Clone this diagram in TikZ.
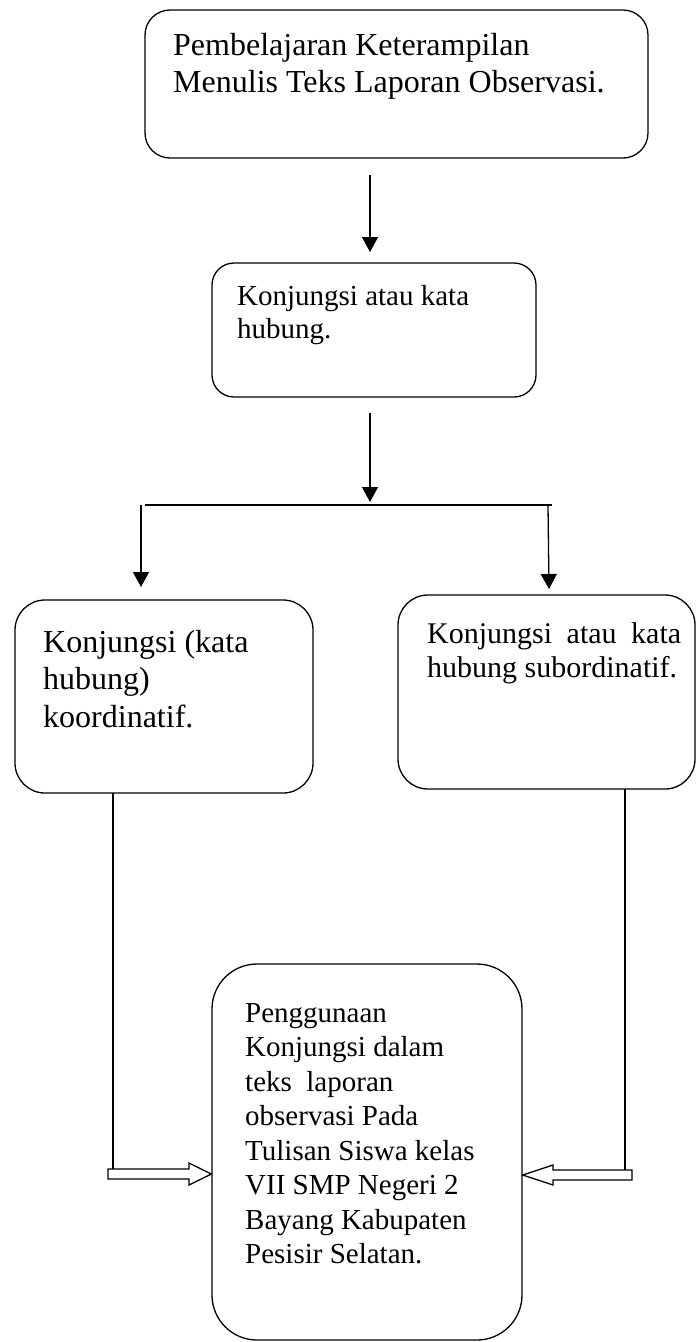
\documentclass[tikz,border=0pt]{standalone}
\usepackage{fontspec}
\setmainfont{Liberation Serif}
\usetikzlibrary{arrows.meta}
\begin{document}
\begin{tikzpicture}[x=1pt,y=-1pt,
  box/.style={draw, line width=1.3pt, inner sep=0pt},
  lbl/.style={anchor=base west, inner sep=0pt},
  arr/.style={line width=1.3pt, -{Triangle[width=16pt,length=15pt]}},
  ln/.style={line width=1.3pt},
  hollow/.style={draw, line width=1.3pt, fill=white, line join=miter}]
\useasboundingbox (0,0) rectangle (696,1342);
% boxes
\node[box, rounded corners=25pt, minimum width=503pt, minimum height=148pt] (b1) at (396.5,84) {};
\node[box, rounded corners=22pt, minimum width=324pt, minimum height=134pt] (b2) at (374,330) {};
\node[box, rounded corners=30pt, minimum width=298pt, minimum height=193pt] (bl) at (164,696.5) {};
\node[box, rounded corners=30pt, minimum width=297pt, minimum height=194pt] (br) at (546.5,692) {};
\node[box, rounded corners=45pt, minimum width=310pt, minimum height=376pt] (bb) at (367,1152) {};
% texts
\node[lbl] (t1) at (173,55) {\fontsize{32}{37}\selectfont\parbox[t]{480pt}{\raggedright Pembelajaran Keterampilan\\Menulis Teks Laporan Observasi.}};
\node[lbl] (t2) at (237,305) {\fontsize{29}{33}\selectfont\parbox[t]{290pt}{\raggedright Konjungsi atau kata\\hubung.}};
\node[lbl] (tl) at (43,652) {\fontsize{32}{37.5}\selectfont\parbox[t]{260pt}{\raggedright Konjungsi (kata\\hubung)\\koordinatif.}};
\node[lbl] (tr) at (427,643) {\fontsize{30}{34}\selectfont\parbox[t]{254pt}{\makebox[254pt][s]{Konjungsi atau kata}\\hubung subordinatif.}};
\node[lbl] (tb) at (245,1022) {\fontsize{29}{34.5}\selectfont\parbox[t]{270pt}{\raggedright Penggunaan\\Konjungsi dalam\\teks\ \ laporan\\observasi Pada\\Tulisan Siswa kelas\\VII SMP Negeri 2\\Bayang Kabupaten\\Pesisir Selatan.}};
% connector points
\coordinate (a1s) at (370,175);
\coordinate (a1e) at (370,252);
\coordinate (a2s) at (370,413);
\coordinate (a2e) at (370,502);
\coordinate (hl) at (145,505);
\coordinate (hr) at (552,505);
\coordinate (ls) at (141,505);
\coordinate (le) at (141,587);
\coordinate (rs) at (548,505);
\coordinate (re) at (549,589);
\coordinate (vl) at (113,793);
\coordinate (vr) at (625,789);
% arrows
\draw[arr] (a1s) -- (a1e);
\draw[arr] (a2s) -- (a2e);
\draw[ln] (hl) -- (hr);
\draw[line width=1.8pt] (372,505) -- (416,505);
\draw[arr] (ls) -- (le);
\draw[arr] (rs) -- (re);
\draw[ln] (vl) -- (113,1169);
\draw[ln] (vr) -- (625,1170);
\draw[hollow] (108,1169) -- (189,1169) -- (189,1163) -- (bb.west |- 0,1174) -- (189,1185) -- (189,1179) -- (108,1179) -- cycle;
\draw[hollow] (632,1170) -- (553,1170) -- (553,1165) -- (bb.east |- 0,1175) -- (553,1185) -- (553,1180) -- (632,1180) -- cycle;
\end{tikzpicture}
\end{document}
